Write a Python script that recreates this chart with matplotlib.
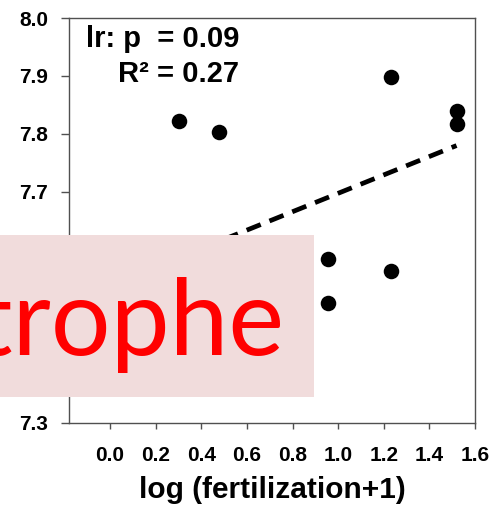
import numpy as np
import matplotlib.pyplot as plt
from matplotlib.patches import Rectangle

# visible data points (log(fertilization+1) vs pH)
x_fert = [0.301, 0.477, 0.954, 0.954, 1.230, 1.230, 1.519, 1.519]
ph_vals = [7.822, 7.803, 7.583, 7.507, 7.898, 7.562, 7.840, 7.817]

# linear regression shown as dashed line
fit_slope = 0.159
fit_intercept = 7.538
fit_range = [0.0, 1.519]

x_ticks = [0.0, 0.2, 0.4, 0.6, 0.8, 1.0, 1.2, 1.4, 1.6]
y_ticks = [7.3, 7.4, 7.5, 7.6, 7.7, 7.8, 7.9, 8.0]

W, H = 493, 519
fig = plt.figure(figsize=(W / 100, H / 100), dpi=100)
plt.rcParams['font.family'] = ['Liberation Sans', 'DejaVu Sans']

ax = fig.add_axes([69 / W, (H - 423) / H, (475 - 69) / W, (423 - 18) / H])

fx = np.array(fit_range)
ax.plot(fx, fit_intercept + fit_slope * fx, color='black', lw=3.4,
        dashes=(3.2, 2.0), solid_capstyle='butt', zorder=2)
ax.scatter(x_fert, ph_vals, s=125, color='black', zorder=3, linewidths=0)

ax.set_xlim(-0.18, 1.6)
ax.set_ylim(7.3, 8.0)
ax.set_xticks(x_ticks)
ax.set_xticklabels([f"{v:.1f}" for v in x_ticks])
ax.set_yticks(y_ticks)
ax.set_yticklabels([f"{v:.1f}" for v in y_ticks])

for sp in ax.spines.values():
    sp.set_color('#505050')
    sp.set_linewidth(1.0)

ax.tick_params(axis='y', direction='out', length=6, width=1, color='#505050',
               pad=9, labelsize=15)
ax.tick_params(axis='x', direction='out', length=4.5, width=1, color='#505050',
               pad=12, labelsize=15)
for lab in ax.get_xticklabels() + ax.get_yticklabels():
    lab.set_fontweight('bold')

ax.set_xlabel("log (fertilization+1)", fontsize=21.5, fontweight='bold', labelpad=8)

ax.text(239 / W, 1 - 47 / H, "lr: p  = 0.09", transform=fig.transFigure,
        ha='right', va='baseline', fontsize=21, fontweight='bold')
ax.text(239 / W, 1 - 82 / H, "R² = 0.27", transform=fig.transFigure,
        ha='right', va='baseline', fontsize=21, fontweight='bold')

# overlay box with red text
fig.add_artist(Rectangle((0, 1 - 397 / H), 314 / W, (397 - 235) / H,
                         transform=fig.transFigure, facecolor='#f1dcdc',
                         edgecolor='none', zorder=10))
fig.text(284 / W, 1 - 355 / H, "Catastrophe", color='#ff0000', fontsize=76,
         family=['Lato', 'DejaVu Sans'], ha='right', va='baseline', zorder=11)

fig.savefig('out.png', dpi=100)
